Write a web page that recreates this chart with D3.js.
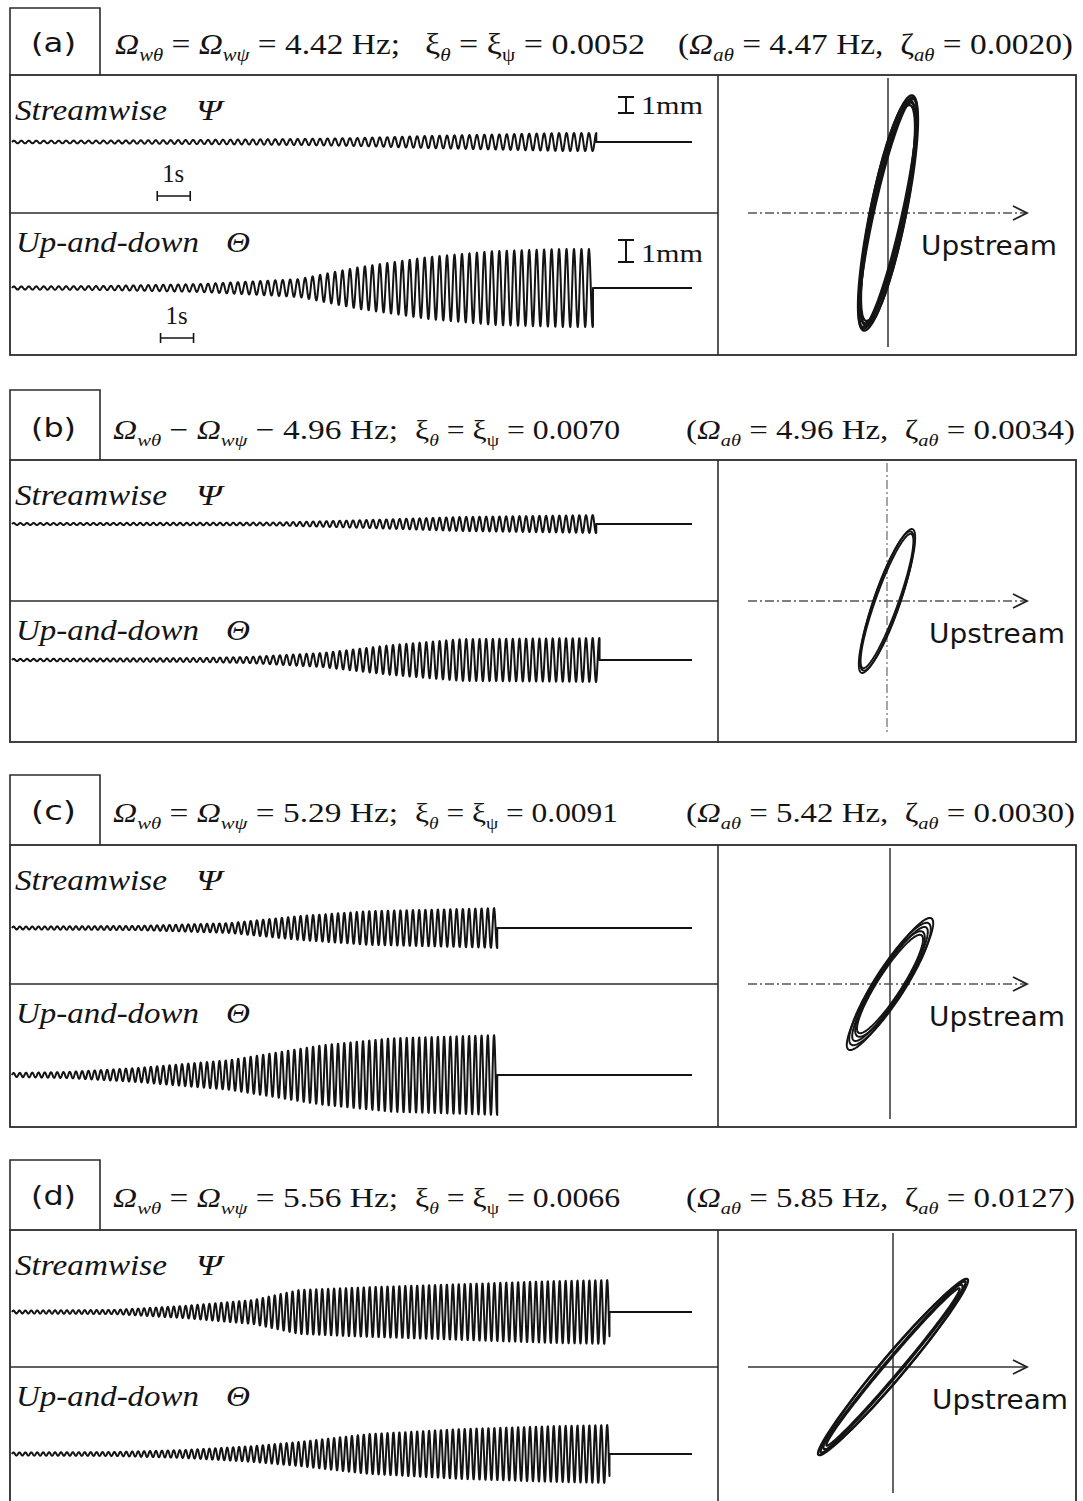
<!DOCTYPE html>
<html>
<head>
<meta charset="utf-8">
<script src="https://cdn.jsdelivr.net/npm/d3@7"></script>
<style>
  html, body { margin: 0; padding: 0; background: #fff; }
  svg { display: block; }
</style>
</head>
<body>
<svg id="fig" width="1083" height="1501"></svg>
<script>
// ---------------- data ----------------
const panelTags    = ["(a)", "(b)", "(c)", "(d)"];
const windRelation = ["=", "\u2212", "=", "="];
const windFreq     = ["4.42", "4.96", "5.29", "5.56"];      // Ω_wθ = Ω_wψ  [Hz]
const windDamping  = ["0.0052", "0.0070", "0.0091", "0.0066"]; // ξ_θ = ξ_ψ
const aeroFreq     = ["4.47", "4.96", "5.42", "5.85"];      // Ω_aθ [Hz]
const aeroDamping  = ["0.0020", "0.0034", "0.0030", "0.0127"]; // ζ_aθ

// time when the flutter oscillation is stopped [s]; record length [s]
const stopPsi   = [17.7, 17.7, 14.7, 18.1];
const stopTheta = [17.6, 17.8, 14.7, 18.1];
const recordEnd = 20.6;

// amplitude envelopes of the time histories: [time s, amplitude mm]
const envPsi = [
  [[0, 0.08], [2.7, 0.09], [5.7, 0.13], [8.7, 0.19], [10.5, 0.25], [12.6, 0.38], [14.6, 0.47], [16.6, 0.56], [17.7, 0.56]],
  [[0, 0.06], [5.7, 0.08], [8.0, 0.09], [10.8, 0.25], [13.6, 0.44], [17.7, 0.56]],
  [[0, 0.09], [3.8, 0.13], [6.6, 0.31], [8.7, 0.75], [10.8, 1.06], [13.6, 1.19], [14.7, 1.25]],
  [[0, 0.09], [3.1, 0.13], [5.2, 0.38], [7.3, 0.75], [8.7, 1.38], [10.8, 1.56], [13.6, 1.75], [16.4, 1.94], [18.1, 2.0]]
];
const envTheta = [
  [[0, 0.07], [2.7, 0.09], [5.7, 0.18], [8.7, 0.41], [10.5, 0.95], [12.6, 1.41], [14.6, 1.68], [16.6, 1.77], [17.6, 1.77]],
  [[0, 0.05], [5.7, 0.09], [7.2, 0.14], [9.4, 0.32], [11.5, 0.68], [13.6, 0.95], [17.8, 1.0]],
  [[0, 0.09], [1.7, 0.14], [3.8, 0.32], [6.6, 0.68], [9.4, 1.36], [11.5, 1.68], [14.7, 1.82]],
  [[0, 0.07], [3.1, 0.09], [5.2, 0.18], [7.3, 0.36], [8.7, 0.55], [10.8, 0.91], [13.6, 1.14], [16.4, 1.27], [18.1, 1.32]]
];

// Lissajous loops (streamwise vs. up-and-down): [ψ amplitude mm, θ amplitude mm, phase lag rad]
const lissLoops = [
  [[0.50, 1.96, 0.66], [0.49, 1.93, 0.58], [0.47, 1.88, 0.70], [0.46, 1.84, 0.60], [0.45, 1.80, 0.66], [0.48, 1.90, 0.52]],
  [[0.47, 1.20, 0.50], [0.45, 1.16, 0.54], [0.44, 1.12, 0.47]],
  [[0.72, 1.10, 0.40], [0.68, 1.02, 0.46], [0.63, 0.95, 0.42], [0.58, 0.88, 0.50], [0.55, 0.82, 0.44]],
  [[1.25, 1.47, 0.20], [1.21, 1.43, 0.15], [1.16, 1.37, 0.22], [1.11, 1.31, 0.14]]
];

// ---------------- layout ----------------
const boxTop      = [8, 390, 775, 1160];
const panelTop    = [75, 460, 845, 1230];
const panelBottom = [355, 742, 1127, 1506];
const midY        = [213, 601, 984, 1367];
const psiBase     = [142, 524, 928, 1312];
const thetaBase   = [288, 660, 1075, 1454];
const headBase    = [54, 439, 822, 1207];
const axisX       = [888, 887, 890, 893];
const headerFont  = [30, 28, 28, 28];
const seg1 = [[115, 400], [113, 398], [113, 398], [113, 398]];
const seg2 = [[425, 645], [415, 620], [415, 618], [415, 620]];
const seg3 = [[678, 1073], [686, 1075], [686, 1075], [686, 1075]];
const vAxisDashed = [false, true, false, false];
const hAxisDashed = [true, true, true, false];
const loopWidth   = [2.3, 1.9, 2.0, 2.3];

const frameL = 10, frameR = 1076, divX = 718, boxR = 100;
const ink = "#141414", frameInk = "#2c2c2c";
const serif = "Liberation Serif";
const sans = "DejaVu Sans";
const mmPx = { psi: 16, theta: 22 };
const lissPx = 60;

const svg = d3.select("#fig");
const x = d3.scaleLinear().domain([0, recordEnd]).range([12, 692]);

function header(g, parts, span, y, fs) {
  const t = g.append("text")
    .attr("x", span[0]).attr("y", y)
    .attr("font-family", serif).attr("font-size", fs)
    .attr("fill", ink).style("white-space", "pre")
    .attr("textLength", span[1] - span[0]).attr("lengthAdjust", "spacingAndGlyphs");
  let shifted = false;
  parts.forEach(p => {
    const s = t.append("tspan").text(p.t);
    if (p.it) s.attr("font-style", "italic");
    if (p.sub) {
      s.attr("font-size", fs * 0.62);
      if (!shifted) { s.attr("dy", fs * 0.24); shifted = true; }
    } else if (shifted) {
      s.attr("dy", -fs * 0.24); shifted = false;
    }
  });
}

function trace(g, env, stop, freq, base, pxPerMm) {
  const amp = d3.scaleLinear().domain(env.map(d => d[0])).range(env.map(d => d[1])).clamp(true);
  const y = d3.scaleLinear().domain([-1, 1]).range([base + pxPerMm, base - pxPerMm]);
  const n = Math.ceil(stop * freq * 24);
  const pts = d3.range(n + 1).map(k => {
    const t = stop * k / n;
    return [t, amp(t) * Math.sin(2 * Math.PI * freq * t)];
  });
  pts.push([stop, 0], [recordEnd, 0]);
  g.append("path")
    .attr("d", d3.line().x(d => x(d[0])).y(d => y(d[1]))(pts))
    .attr("fill", "none").attr("stroke", ink)
    .attr("stroke-width", 2.0).attr("stroke-linejoin", "round");
}

panelTags.forEach((tag, i) => {
  const g = svg.append("g");
  const frame = g.append("g").attr("stroke", frameInk).attr("fill", "none");

  // tag box and frames
  frame.append("path")
    .attr("d", `M${frameL},${panelTop[i]}V${boxTop[i]}H${boxR}V${panelTop[i]}`)
    .attr("stroke-width", 1.6);
  frame.append("rect")
    .attr("x", frameL).attr("y", panelTop[i])
    .attr("width", frameR - frameL).attr("height", panelBottom[i] - panelTop[i])
    .attr("stroke-width", 1.8);
  frame.append("line").attr("x1", divX).attr("x2", divX)
    .attr("y1", panelTop[i]).attr("y2", panelBottom[i]).attr("stroke-width", 1.6);
  frame.append("line").attr("x1", frameL).attr("x2", divX)
    .attr("y1", midY[i]).attr("y2", midY[i]).attr("stroke-width", 1.6);

  g.append("text").text(tag)
    .attr("x", 31).attr("y", headBase[i] - 2)
    .attr("font-family", sans).attr("font-size", 26).attr("fill", ink)
    .attr("textLength", 45).attr("lengthAdjust", "spacingAndGlyphs");

  // header
  const fs = headerFont[i], rel = windRelation[i];
  header(g, [
    { t: "\u03A9", it: 1 }, { t: "w\u03B8", it: 1, sub: 1 },
    { t: ` ${rel} ` }, { t: "\u03A9", it: 1 }, { t: "w\u03C8", it: 1, sub: 1 },
    { t: ` ${rel} ${windFreq[i]} Hz;` }
  ], seg1[i], headBase[i], fs);
  header(g, [
    { t: "\u03BE" }, { t: "\u03B8", it: 1, sub: 1 }, { t: " = \u03BE" }, { t: "\u03C8", sub: 1 },
    { t: ` = ${windDamping[i]}` }
  ], seg2[i], headBase[i], fs);
  header(g, [
    { t: "(" }, { t: "\u03A9", it: 1 }, { t: "a\u03B8", it: 1, sub: 1 },
    { t: ` = ${aeroFreq[i]} Hz,  \u03B6` }, { t: "a\u03B8", it: 1, sub: 1 },
    { t: ` = ${aeroDamping[i]})` }
  ], seg3[i], headBase[i], fs);

  // row labels
  const lab = (txt, xx, y, len) => g.append("text").text(txt)
    .attr("x", xx).attr("y", y).attr("font-family", serif).attr("font-style", "italic")
    .attr("font-size", 29).attr("fill", ink)
    .attr("textLength", len).attr("lengthAdjust", "spacingAndGlyphs");
  lab("Streamwise", 15, panelTop[i] + 45, 152);
  lab("\u03A8", 196, panelTop[i] + 45, 26);
  lab("Up-and-down", 16, midY[i] + 39, 183);
  lab("\u0398", 226, midY[i] + 39, 24);

  // time histories
  const f = +windFreq[i];
  trace(g, envPsi[i], stopPsi[i], f, psiBase[i], mmPx.psi);
  trace(g, envTheta[i], stopTheta[i], f, thetaBase[i], mmPx.theta);

  // Lissajous figure
  const cx = axisX[i], cy = midY[i];
  const lx = d3.scaleLinear().domain([-1, 1]).range([cx - lissPx, cx + lissPx]);
  const ly = d3.scaleLinear().domain([-1, 1]).range([cy + lissPx, cy - lissPx]);
  g.append("line").attr("x1", cx).attr("x2", cx)
    .attr("y1", panelTop[i] + 3).attr("y2", Math.min(panelBottom[i], 1501) - 8)
    .attr("stroke", vAxisDashed[i] ? "#777" : "#333").attr("stroke-width", vAxisDashed[i] ? 1.3 : 1.5)
    .attr("stroke-dasharray", vAxisDashed[i] ? "9,3,2,3" : null);
  g.append("line").attr("x1", 748).attr("x2", 1026)
    .attr("y1", cy).attr("y2", cy)
    .attr("stroke", hAxisDashed[i] ? "#555" : "#333").attr("stroke-width", 1.5)
    .attr("stroke-dasharray", hAxisDashed[i] ? "9,3,2,3" : null);
  g.append("path")
    .attr("d", `M1013,${cy - 7}L1027,${cy}L1013,${cy + 7}`)
    .attr("fill", "none").attr("stroke", "#222").attr("stroke-width", 1.8);

  const loopLine = d3.line().x(d => lx(d[0])).y(d => ly(d[1])).curve(d3.curveLinearClosed);
  lissLoops[i].forEach(([a, b, ph]) => {
    const pts = d3.range(0, 2 * Math.PI, Math.PI / 90)
      .map(t => [a * Math.cos(t), b * Math.cos(t - ph)]);
    g.append("path").attr("d", loopLine(pts))
      .attr("fill", "none").attr("stroke", ink).attr("stroke-width", loopWidth[i]);
  });

  g.append("text").text("Upstream")
    .attr("x", i === 0 ? 921 : (i === 3 ? 932 : 929)).attr("y", cy + 42)
    .attr("font-family", sans).attr("font-size", 26).attr("fill", ink)
    .attr("textLength", 136).attr("lengthAdjust", "spacingAndGlyphs");

  // scale bars (first panel only)
  if (i === 0) {
    const bars = [
      { base: 97, mm: mmPx.psi, sec: 4.4, secY: 196 },
      { base: 240, mm: mmPx.theta, sec: 4.5, secY: 338 }
    ];
    bars.forEach(b => {
      const ix = 626;
      g.append("path")
        .attr("d", `M${ix - 8},${b.base}H${ix + 8}M${ix},${b.base}V${b.base + b.mm}M${ix - 8},${b.base + b.mm}H${ix + 8}`)
        .attr("stroke", ink).attr("stroke-width", 2).attr("fill", "none");
      g.append("text").text("1mm")
        .attr("x", 641).attr("y", b.base + b.mm + (b.mm > 18 ? 0 : 1))
        .attr("font-family", serif).attr("font-size", 26).attr("fill", ink)
        .attr("textLength", 62).attr("lengthAdjust", "spacingAndGlyphs");
      const x0 = x(b.sec), x1 = x(b.sec + 1);
      g.append("path")
        .attr("d", `M${x0},${b.secY}H${x1}M${x0},${b.secY - 5}V${b.secY + 5}M${x1},${b.secY - 5}V${b.secY + 5}`)
        .attr("stroke", ink).attr("stroke-width", 1.6).attr("fill", "none");
      g.append("text").text("1s")
        .attr("x", x0 + 5).attr("y", b.secY - 14)
        .attr("font-family", serif).attr("font-size", 25).attr("fill", ink)
        .attr("textLength", 22).attr("lengthAdjust", "spacingAndGlyphs");
    });
  }
});
</script>
</body>
</html>
